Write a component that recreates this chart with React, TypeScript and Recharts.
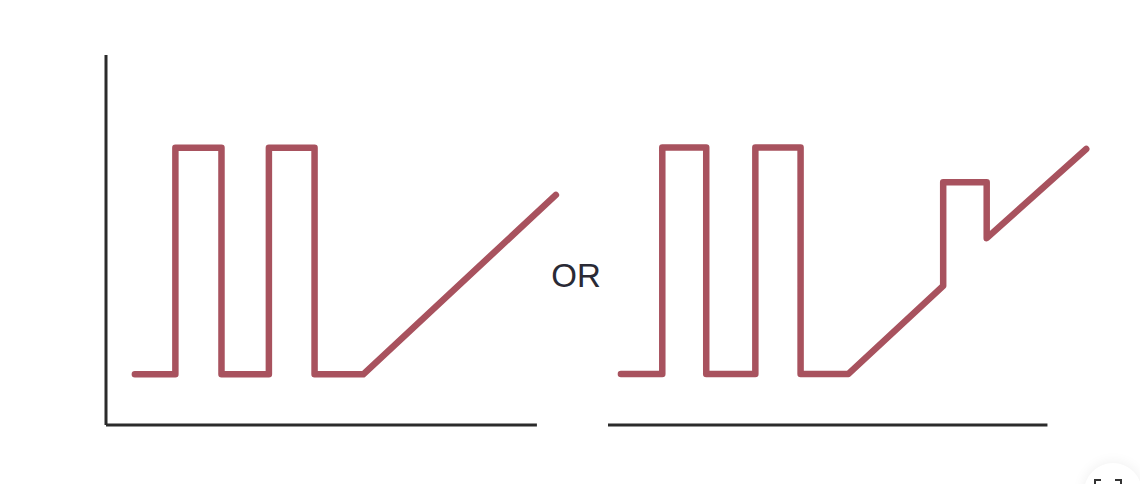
import React from "react";
import { LineChart, Line, XAxis, YAxis, ReferenceLine } from "recharts";

// Left panel: signal level over time
const leftTime = [6.7, 16.1, 16.1, 26.8, 26.8, 37.8, 37.8, 48.4, 48.4, 59.7, 104.4];
const leftLevel = [1.37, 1.37, 7.49, 7.49, 1.37, 1.37, 7.49, 7.49, 1.37, 1.37, 6.22];

// Right panel: signal level over time
const rightTime = [3.0, 12.6, 12.6, 22.8, 22.8, 34.2, 34.2, 44.7, 44.7, 55.8, 77.8, 77.8, 87.9, 87.9, 111.0];
const rightLevel = [1.38, 1.38, 7.5, 7.5, 1.38, 1.38, 7.5, 7.5, 1.38, 1.38, 3.76, 6.56, 6.56, 5.05, 7.46];

const separatorText = "OR";

const leftData = leftTime.map((t, i) => ({ t, v: leftLevel[i] }));
const rightData = rightTime.map((t, i) => ({ t, v: rightLevel[i] }));

const LINE_COLOR = "#a8525e";
const AXIS_COLOR = "#2b2b2b";

export default function App() {
  return (
    <div
      style={{
        position: "absolute",
        left: 0,
        top: 0,
        width: 1140,
        height: 484,
        overflow: "hidden",
        background: "#ffffff",
      }}
    >
      <div style={{ position: "absolute", left: 0, top: 0 }}>
        <LineChart width={600} height={484} data={leftData} margin={{ top: 55, right: 20, bottom: 59, left: 106 }}>
          <XAxis type="number" dataKey="t" domain={[0, 110]} hide />
          <YAxis type="number" domain={[0, 10]} hide />
          <ReferenceLine
            segment={[
              { x: 0, y: 0 },
              { x: 0, y: 10 },
            ]}
            stroke={AXIS_COLOR}
            strokeWidth={3}
            ifOverflow="visible"
          />
          <ReferenceLine
            segment={[
              { x: 0, y: 0 },
              { x: 100, y: 0 },
            ]}
            stroke={AXIS_COLOR}
            strokeWidth={3}
            ifOverflow="visible"
          />
          <Line
            type="linear"
            dataKey="v"
            stroke={LINE_COLOR}
            strokeWidth={6.5}
            strokeLinecap="round"
            strokeLinejoin="round"
            dot={false}
            activeDot={false}
            isAnimationActive={false}
          />
        </LineChart>
      </div>
      <div style={{ position: "absolute", left: 570, top: 0 }}>
        <LineChart width={570} height={484} data={rightData} margin={{ top: 55, right: 15, bottom: 59, left: 38 }}>
          <XAxis type="number" dataKey="t" domain={[0, 120]} hide />
          <YAxis type="number" domain={[0, 10]} hide />
          <ReferenceLine
            segment={[
              { x: 0, y: 0 },
              { x: 102, y: 0 },
            ]}
            stroke={AXIS_COLOR}
            strokeWidth={3}
            ifOverflow="visible"
          />
          <Line
            type="linear"
            dataKey="v"
            stroke={LINE_COLOR}
            strokeWidth={6.5}
            strokeLinecap="round"
            strokeLinejoin="round"
            dot={false}
            activeDot={false}
            isAnimationActive={false}
          />
        </LineChart>
      </div>
      <div
        style={{
          position: "absolute",
          left: 546,
          top: 260,
          width: 60,
          textAlign: "center",
          fontFamily: '"Liberation Sans", Arial, sans-serif',
          fontSize: 33,
          lineHeight: "32px",
          color: "#2a2a35",
        }}
      >
        {separatorText}
      </div>
      <div
        style={{
          position: "absolute",
          left: 1084,
          top: 463,
          width: 58,
          height: 58,
          borderRadius: "50%",
          background: "#ffffff",
          boxShadow: "0 0 14px rgba(0,0,0,0.07)",
        }}
      >
        <svg width={58} height={58} style={{ position: "absolute", left: 0, top: 0 }}>
          <path d="M11 23 V17 H17" fill="none" stroke="#333" strokeWidth={2} />
          <path d="M31 17 H37 V23" fill="none" stroke="#333" strokeWidth={2} />
        </svg>
      </div>
    </div>
  );
}
